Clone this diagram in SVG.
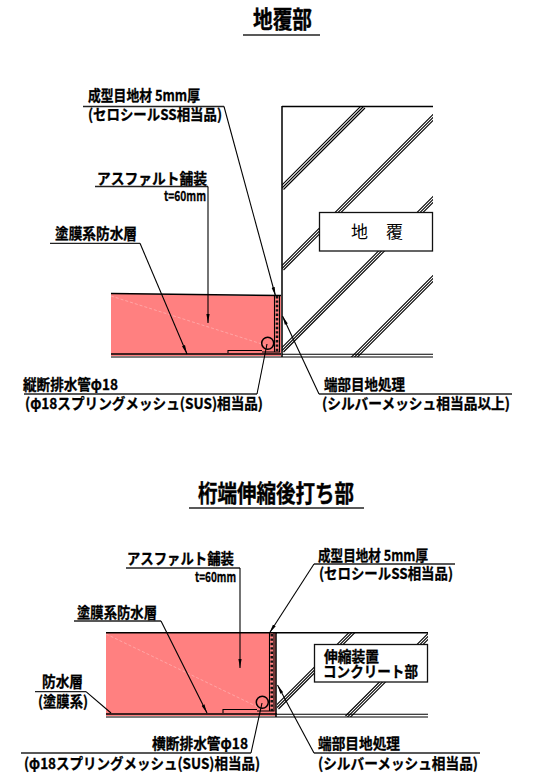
<svg xmlns="http://www.w3.org/2000/svg" width="538" height="775" viewBox="0 0 538 775">
<style>
text{font-family:"Noto Sans CJK JP","Noto Sans CJK SC",sans-serif;font-weight:700;fill:#000;font-size:15px;stroke:#000;stroke-width:.3}
.t{font-size:24px;stroke-width:.4}
.s{font-size:13.500px}
.r{font-weight:400;font-size:17px;stroke:none}
.l{fill:none;stroke:#000;stroke-width:1.1}
.u{fill:none;stroke:#222;stroke-width:1.3}
.h{fill:none;stroke:#000;stroke-width:1.1}
.a{fill:none;stroke:#000;stroke-width:1.1;marker-end:url(#ar)}
.p{fill:#ff8080;stroke:none}
.d{fill:none;stroke:#ffb4b4;stroke-width:.7;stroke-dasharray:3 2}
.b{fill:#fff;stroke:#111;stroke-width:1.3}
.k{fill:none;stroke:#000;stroke-width:1.5}
.j{fill:none;stroke:#111;stroke-width:2.6;stroke-dasharray:2.4 2}
</style>
<defs>
<marker id="ar" markerUnits="userSpaceOnUse" markerWidth="10" markerHeight="6" refX="9" refY="2.500" orient="auto"><path d="M0 .9L9 2.500L0 4.100Z" fill="#000"/></marker>
<clipPath id="c1"><rect x="282" y="106" width="151" height="251"/></clipPath>
<clipPath id="c2"><rect x="277" y="633" width="151" height="84"/></clipPath>
</defs>

<g id="title-top"><text class="t" x="253" y="28" textLength="59" lengthAdjust="spacingAndGlyphs">地覆部</text><path class="u" d="M243 35H320"/></g>

<g id="kerb-structure">
<path class="k" d="M282 106.500H433M282 106V357"/>
<g clip-path="url(#c1)">
<path class="h" d="M280.500 186.500L362 105M282 188L363.500 106.500M283.500 189.500L365 108"/>
<path class="h" d="M280.500 267L436 111.500M282 268.500L437.500 113M283.500 270L439 114.500"/>
<path class="h" d="M280.500 349L437 192.500M282 350.500L438.500 194M283.500 352L440 195.500"/>
<path class="h" d="M350.500 358L436 272.500M352 359.500L437.500 274M353.500 361L439 275.500"/>
</g>
<path class="l" d="M282 354.200H433M282 357H433"/>
</g>
<g id="kerb-box"><rect class="b" x="319.500" y="212.500" width="113" height="38.500"/><text class="r" x="351" y="238">地</text><text class="r" x="386" y="238">覆</text></g>

<g id="pavement-top">
<path class="p" d="M111 293.500L281 296V356H111Z"/>
<path class="d" d="M111 296L265 345"/>
<path class="k" d="M111 293.500L281 295.500" stroke-width="1.600"/>
<path class="k" d="M111 354H281" stroke-width="2"/>
<path class="l" d="M111 357H282"/>
<path class="l" d="M228 353V350.500H262M274.500 295V352H262M279.500 295V352H274"/>
<path class="j" d="M277 296V352"/>
<circle class="k" cx="267.700" cy="343.300" r="6" stroke-width="1.700"/>
</g>

<g id="labels-top">
<g id="l1"><text x="88" y="101" textLength="112" lengthAdjust="spacingAndGlyphs">成型目地材 5mm厚</text><text x="88" y="120" textLength="134" lengthAdjust="spacingAndGlyphs">(セロシールSS相当品)</text></g>
<g id="l2"><text x="97" y="184" textLength="110" lengthAdjust="spacingAndGlyphs">アスファルト舗装</text><text class="s" x="164" y="201" textLength="42" lengthAdjust="spacingAndGlyphs">t=60mm</text></g>
<g id="l3"><text x="55" y="239" textLength="82" lengthAdjust="spacingAndGlyphs">塗膜系防水層</text></g>
<g id="l4"><text x="23" y="390" textLength="95" lengthAdjust="spacingAndGlyphs">縦断排水管φ18</text><text x="25" y="409" textLength="238" lengthAdjust="spacingAndGlyphs">(φ18スプリングメッシュ(SUS)相当品)</text></g>
<g id="l5"><text x="324" y="390" textLength="81" lengthAdjust="spacingAndGlyphs">端部目地処理</text><text x="322" y="409" textLength="188" lengthAdjust="spacingAndGlyphs">(シルバーメッシュ相当品以上)</text></g>
</g>

<g id="connectors-top">
<path class="u" d="M83 106.500H224M95 186.500H208M50 243.300H140M24 394H257M319 394H512"/>
<path class="a" d="M224 106.500L275.500 296"/>
<path class="a" d="M208 186.500V323"/>
<path class="a" d="M140 243.300L187 354"/>
<path class="l" d="M257 394L267 344"/>
<path class="a" d="M319 394L282.500 316"/>
</g>

<g id="title-bottom"><text class="t" x="198" y="502" textLength="156" lengthAdjust="spacingAndGlyphs">桁端伸縮後打ち部</text><path class="u" d="M189 508H364"/></g>

<g id="deck-structure">
<path class="k" d="M276 632.800H428" stroke-width="1.300"/>
<g clip-path="url(#c2)">
<path class="h" d="M275.500 706L352 629.500M277 707.500L353.500 631M278.500 709L355 632.500"/>
<path class="h" d="M345.500 716L432 629.500M347 717.500L433.500 631M348.500 719L435 632.500"/>
</g>
<path class="l" d="M277 714.200H428M277 717H428"/>
</g>
<g id="deck-box"><rect class="b" x="314.500" y="644.500" width="113" height="37.500"/><text x="324" y="662" textLength="55" lengthAdjust="spacingAndGlyphs">伸縮装置</text><text x="323" y="677" textLength="95" lengthAdjust="spacingAndGlyphs">コンクリート部</text></g>

<g id="pavement-bottom">
<path class="p" d="M106 633H276V716H106Z"/>
<path class="d" d="M106 634L260 708"/>
<path class="k" d="M106 632.800H277"/>
<path class="k" d="M106 714H277" stroke-width="2"/>
<path class="l" d="M106 717H277"/>
<path class="l" d="M223 713V709.500H257M269.500 633V711H257M274 633V711H269"/>
<path class="k" d="M276 633V717" stroke-width="1.800"/>
<path class="j" d="M271.800 634V711"/>
<circle class="k" cx="262.300" cy="702.300" r="6" stroke-width="1.700"/>
</g>

<g id="labels-bottom">
<g id="l6"><text x="127" y="564" textLength="107" lengthAdjust="spacingAndGlyphs">アスファルト舗装</text><text class="s" x="195" y="582" textLength="41" lengthAdjust="spacingAndGlyphs">t=60mm</text></g>
<g id="l7"><text x="77" y="618" textLength="80" lengthAdjust="spacingAndGlyphs">塗膜系防水層</text></g>
<g id="l8"><text x="42" y="687" textLength="41" lengthAdjust="spacingAndGlyphs">防水層</text><text x="38" y="707" textLength="50" lengthAdjust="spacingAndGlyphs">(塗膜系)</text></g>
<g id="l9"><text x="152" y="749" textLength="96" lengthAdjust="spacingAndGlyphs">横断排水管φ18</text><text x="24" y="769" textLength="236" lengthAdjust="spacingAndGlyphs">(φ18スプリングメッシュ(SUS)相当品)</text></g>
<g id="l10"><text x="318" y="561" textLength="110" lengthAdjust="spacingAndGlyphs">成型目地材 5mm厚</text><text x="319" y="579" textLength="134" lengthAdjust="spacingAndGlyphs">(セロシールSS相当品)</text></g>
<g id="l11"><text x="318" y="749" textLength="82" lengthAdjust="spacingAndGlyphs">端部目地処理</text><text x="318" y="769" textLength="160" lengthAdjust="spacingAndGlyphs">(シルバーメッシュ相当品)</text></g>
</g>

<g id="connectors-bottom">
<path class="u" d="M126 568H240M74 621H161M35 691.700H86M21 753H251M314 564H455M314 753H480"/>
<path class="a" d="M240 568V668"/>
<path class="a" d="M161 621L207 713"/>
<path class="l" d="M86 691.700L111 713"/>
<path class="l" d="M251 753L262 703"/>
<path class="a" d="M314 564L269.500 633"/>
<path class="a" d="M314 753L277.500 685"/>
</g>
</svg>
